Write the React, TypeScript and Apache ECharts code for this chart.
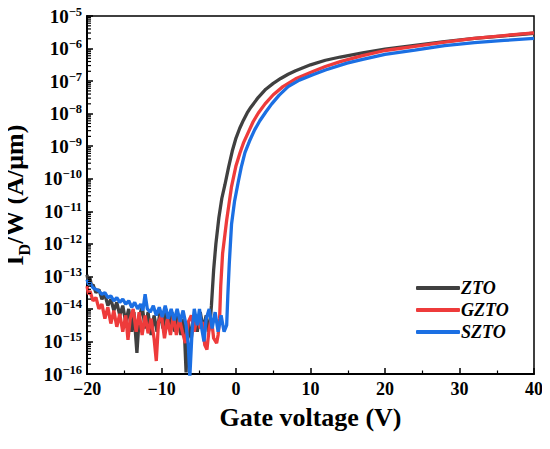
import React, { useEffect, useRef } from "react";
import * as echarts from "echarts";

// [gate voltage (V), log10(I_D/W in A/um)]
const ztoPoints: number[][] = [
  [-20, -12.95], [-19.8, -13.2], [-19.6, -13.05], [-19.4, -13.3], [-19.2, -13.25], [-18.8, -13.5],
  [-18.4, -13.4], [-18, -13.7], [-17.6, -13.55], [-17.2, -13.9], [-16.8, -13.7], [-16.4, -14.05],
  [-16, -13.8], [-15.6, -14.2], [-15.2, -13.9], [-14.8, -14.4], [-14.4, -14.0], [-14, -14.7],
  [-13.7, -14.1], [-13.3, -15.35], [-13, -14.3], [-12.6, -13.9], [-12.2, -14.6], [-11.8, -14.1],
  [-11.4, -14.8], [-11, -14.2], [-10.6, -14.7], [-10.2, -14.1], [-9.8, -14.6], [-9.4, -14.0],
  [-9, -14.6], [-8.6, -14.1], [-8.2, -14.7], [-7.8, -14.2], [-7.4, -14.8], [-7, -14.3],
  [-6.7, -15.95], [-6.4, -14.4], [-6, -14.9], [-5.6, -14.2], [-5.2, -14.7], [-4.8, -14.1],
  [-4.4, -14.6], [-4, -14.2], [-3.7, -14.7], [-3.5, -14.5], [-3.3, -13.9], [-3, -12.8],
  [-2.7, -12.0], [-2.3, -11.2], [-1.9, -10.6], [-1.5, -10.2], [-1, -9.65], [-0.5, -9.15],
  [0, -8.75], [0.5, -8.45], [1, -8.2], [1.5, -7.98], [2, -7.8], [3, -7.5], [4, -7.25],
  [5, -7.07], [6, -6.92], [7, -6.79], [8, -6.68], [10, -6.5], [12, -6.36], [14, -6.26],
  [17, -6.13], [20, -6.02], [24, -5.9], [28, -5.79], [32, -5.69], [36, -5.61], [40, -5.53],
];

const gztoPoints: number[][] = [
  [-20, -13.3], [-19.8, -13.55], [-19.6, -13.45], [-19.2, -13.75], [-18.8, -13.65], [-18.4, -14.0],
  [-18, -13.85], [-17.6, -14.3], [-17.2, -13.95], [-16.8, -14.45], [-16.4, -14.05], [-16, -14.55],
  [-15.6, -14.15], [-15.2, -14.7], [-14.8, -14.2], [-14.5, -14.95], [-14.2, -14.3], [-13.8, -14.0],
  [-13.4, -14.7], [-13, -14.1], [-12.6, -14.8], [-12.2, -14.2], [-11.8, -14.75], [-11.4, -14.3],
  [-11, -14.9], [-10.7, -15.6], [-10.4, -14.4], [-10, -14.2], [-9.6, -14.9], [-9.2, -14.3],
  [-8.8, -14.8], [-8.4, -14.2], [-8, -14.8], [-7.6, -14.3], [-7.2, -14.7], [-6.8, -15.05],
  [-6.4, -14.4], [-6, -14.2], [-5.6, -14.7], [-5.2, -14.2], [-4.8, -14.6], [-4.5, -14.4],
  [-4.2, -15.1], [-3.9, -15.25], [-3.6, -14.6], [-3.3, -14.3], [-3, -14.9], [-2.6, -15.05],
  [-2.4, -14.8], [-2.2, -14.3], [-2.05, -13.3], [-1.8, -12.3], [-1.25, -11.27], [-0.6, -10.24],
  [0, -9.6], [0.54, -9.2], [1, -8.9], [1.6, -8.6], [2.3, -8.25], [3, -7.98], [3.9, -7.7],
  [5, -7.42], [6.3, -7.17], [8, -6.93], [10.4, -6.7], [12, -6.55], [14, -6.4], [17, -6.22],
  [20, -6.06], [24, -5.93], [28, -5.8], [32, -5.69], [36, -5.6], [40, -5.52],
];

const sztoPoints: number[][] = [
  [-20, -13.1], [-19.8, -13.25], [-19.6, -13.2], [-19.2, -13.35], [-18.8, -13.4], [-18.4, -13.45],
  [-18, -13.55], [-17.6, -13.5], [-17.2, -13.65], [-16.8, -13.6], [-16.4, -13.75], [-16, -13.65],
  [-15.6, -13.8], [-15.2, -13.7], [-14.8, -13.85], [-14.4, -13.75], [-14, -13.95], [-13.6, -13.8],
  [-13.2, -14.0], [-12.8, -13.85], [-12.5, -14.05], [-12.2, -13.55], [-11.9, -14.0], [-11.5, -14.1],
  [-11.1, -13.9], [-10.7, -14.2], [-10.3, -13.95], [-9.9, -14.25], [-9.5, -13.9], [-9.1, -14.3],
  [-8.7, -14.0], [-8.3, -14.35], [-7.9, -14.0], [-7.5, -14.4], [-7.1, -14.05], [-6.7, -14.5],
  [-6.4, -15.1], [-6.2, -16.1], [-5.9, -14.7], [-5.6, -14.0], [-5.2, -14.5], [-4.9, -14.0],
  [-4.6, -14.6], [-4.3, -15.0], [-4, -14.3], [-3.6, -14.0], [-3.2, -14.6], [-2.8, -14.1],
  [-2.4, -14.7], [-2, -14.2], [-1.6, -14.7], [-1.25, -14.5], [-1.1, -13.6], [-0.9, -12.6],
  [-0.6, -11.4], [-0.2, -10.7], [0.3, -10.1], [0.7, -9.65], [1.2, -9.2], [1.8, -8.85],
  [2.5, -8.5], [3.2, -8.22], [4, -7.95], [4.8, -7.7], [5.8, -7.43], [7, -7.17], [8.5, -6.97],
  [10.4, -6.8], [12, -6.66], [14.9, -6.45], [17, -6.33], [20, -6.18], [24, -6.05], [28, -5.91],
  [32, -5.82], [36, -5.75], [40, -5.69],
];

const seriesNames = ["ZTO", "GZTO", "SZTO"];
const seriesColors = ["#404040", "#ee3b3b", "#1b6fe3"];
const xTicks = { min: -20, max: 40, step: 10 };
const yDecades = { min: -16, max: -5 };

const FONT = "Liberation Serif";

function toData(points: number[][]) {
  return points.map((p) => [p[0], Math.pow(10, p[1])]);
}

export default function App() {
  const ref = useRef<HTMLDivElement>(null);
  useEffect(() => {
    if (!ref.current) return;
    const chart = echarts.init(ref.current, undefined, { renderer: "svg" });
    const minorTicks: number[][] = [];
    for (let n = yDecades.min; n < yDecades.max; n++) {
      for (let k = 2; k <= 9; k++) minorTicks.push([xTicks.min, k * Math.pow(10, n)]);
    }
    const datasets = [toData(ztoPoints), toData(gztoPoints), toData(sztoPoints)];
    chart.setOption({
      animation: false,
      textStyle: { fontFamily: FONT },
      grid: {
        left: 87,
        top: 16,
        right: 16,
        bottom: 67,
        containLabel: false,
        outerBoundsMode: "none",
        show: true,
        borderColor: "#000",
        borderWidth: 1.5,
        backgroundColor: "transparent",
      },
      legend: {
        orient: "vertical",
        left: 411,
        top: 274,
        itemWidth: 44,
        itemHeight: 4,
        itemGap: 4,
        icon: "roundRect",
        data: seriesNames,
        textStyle: {
          fontFamily: FONT,
          fontSize: 18,
          fontWeight: "bold",
          fontStyle: "italic",
          color: "#000",
          padding: [0, 0, 0, -4],
        },
      },
      xAxis: {
        type: "value",
        min: xTicks.min,
        max: xTicks.max,
        interval: xTicks.step,
        name: "Gate voltage (V)",
        nameLocation: "middle",
        nameGap: 30,
        nameTextStyle: { fontFamily: FONT, fontSize: 26, fontWeight: "bold", color: "#000" },
        axisLine: { show: true, onZero: false, lineStyle: { color: "#000", width: 2 } },
        axisTick: { show: true, inside: true, length: 6, lineStyle: { color: "#000", width: 1.5 } },
        minorTick: { show: true, splitNumber: 2, length: 3.5, lineStyle: { color: "#000", width: 1.2 } },
        splitLine: { show: false },
        axisLabel: {
          margin: 6,
          fontFamily: FONT,
          fontSize: 18,
          fontWeight: "bold",
          color: "#000",
          formatter: (v: number) => String(v).replace("-", "\u2212"),
        },
      },
      yAxis: {
        type: "log",
        logBase: 10,
        min: Math.pow(10, yDecades.min),
        max: Math.pow(10, yDecades.max),
        interval: 1,
        name: "{i|I}{d|D}{i|/W (A/\u03bcm)}",
        nameLocation: "middle",
        nameGap: 51,
        nameRotate: 90,
        nameTextStyle: {
          rich: {
            i: { fontFamily: FONT, fontSize: 26, fontWeight: "bold", color: "#000", lineHeight: 28 },
            d: {
              fontFamily: FONT,
              fontSize: 16,
              fontWeight: "bold",
              color: "#000",
              lineHeight: 16,
              padding: [20, 0, 0, 0],
            },
          },
        },
        axisLine: { show: true, onZero: false, lineStyle: { color: "#000", width: 2 } },
        axisTick: { show: true, inside: true, length: 6, lineStyle: { color: "#000", width: 1.5 } },
        splitLine: { show: false },
        axisLabel: {
          margin: 5,
          formatter: (v: number) => {
            const e = Math.round(Math.log10(v));
            return "{b|10}{s|\u2212" + Math.abs(e) + "}";
          },
          rich: {
            b: { fontFamily: FONT, fontSize: 19, fontWeight: "bold", color: "#000", lineHeight: 22 },
            s: { fontFamily: FONT, fontSize: 12.5, fontWeight: "bold", color: "#000", verticalAlign: "top", lineHeight: 13 },
          },
        },
      },
      series: [
        ...seriesNames.map((name, i) => ({
          name,
          type: "line",
          data: datasets[i],
          showSymbol: false,
          symbol: "none",
          lineStyle: { width: 3.3, color: seriesColors[i] },
          itemStyle: { color: seriesColors[i] },
          z: 2 + i,
        })),
        {
          type: "custom",
          silent: true,
          clip: false,
          data: minorTicks,
          encode: { x: 0, y: 1 },
          z: 10,
          renderItem: (params: any, api: any) => {
            const p = api.coord([api.value(0), api.value(1)]);
            return {
              type: "line",
              shape: { x1: p[0] + 1, y1: p[1], x2: p[0] + 4, y2: p[1] },
              style: { stroke: "#000", lineWidth: 1.2 },
            };
          },
        },
      ],
    });
    return () => chart.dispose();
  }, []);
  return <div ref={ref} style={{ width: 550, height: 441, marginLeft: -8, marginTop: -8 }} />;
}
